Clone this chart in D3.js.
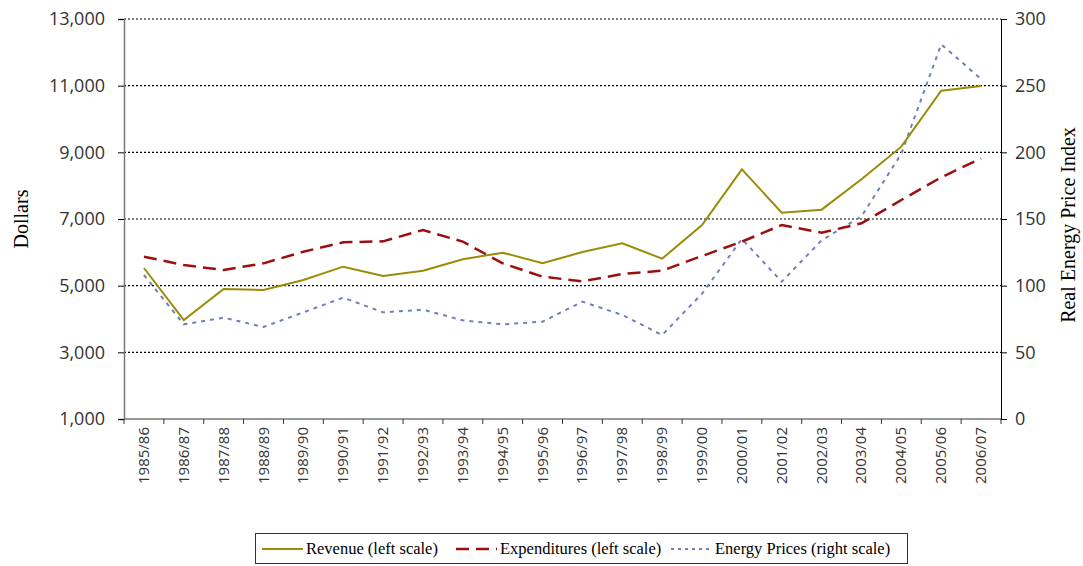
<!DOCTYPE html>
<head>
  <meta charset="utf-8">
  <script src="https://d3js.org/d3.v7.min.js"></script>
  <style>
    body { margin:0; background:#fff; }
    .tick text { font-family: "Open Sans", sans-serif; fill:#333; }
  </style>
</head>
<body>
<script>
// years and the three series
var years = ["1985/86","1986/87","1987/88","1988/89","1989/90","1990/91","1991/92","1992/93",
  "1993/94","1994/95","1995/96","1996/97","1997/98","1998/99","1999/00","2000/01","2001/02",
  "2002/03","2003/04","2004/05","2005/06","2006/07"];
var revenue = [5530,3970,4900,4870,5170,5570,5290,5450,5790,5990,5670,6010,6270,5810,6820,
  8490,7190,7280,8190,9170,10850,10990];
var expenditures = [5870,5620,5470,5670,6020,6300,6330,6670,6320,5670,5270,5130,5350,5450,
  5890,6320,6820,6590,6870,7570,8250,8820];
var energy = [108,71,76,69,80,91,80,82,74,71,73,88,78,63,94,135,103,134,152,199,281,255];
var leftTicks = [1000,3000,5000,7000,9000,11000,13000];
var rightTicks = [0,50,100,150,200,250,300];

var W = 1083, H = 566;
var plotL = 124, plotR = 1001, plotT = 19, plotB = 419;

var svg = d3.select("body").append("svg").attr("width", W).attr("height", H);

var x = d3.scaleBand().domain(years).range([plotL, plotR]);
var yL = d3.scaleLinear().domain([1000, 13000]).range([plotB, plotT]);
var yR = d3.scaleLinear().domain([0, 300]).range([plotB, plotT]);

// dotted gridlines
svg.append("g").selectAll("line").data(leftTicks.slice(1)).enter().append("line")
  .attr("x1", plotL).attr("x2", plotR)
  .attr("y1", function(d){ return yL(d); }).attr("y2", function(d){ return yL(d); })
  .attr("stroke", "#000").attr("stroke-width", 1.2).attr("stroke-dasharray", "2,2");

// left axis
var gl = svg.append("g").attr("transform", "translate(" + plotL + ",0)")
  .call(d3.axisLeft(yL).tickValues(leftTicks).tickFormat(d3.format(",")).tickSize(6).tickPadding(13));
gl.selectAll("text").style("font-size", "18px");
gl.select(".domain").attr("stroke", "#777").attr("stroke-width", 1.5);

// right axis
var gr = svg.append("g").attr("transform", "translate(" + plotR + ",0)")
  .call(d3.axisRight(yR).tickValues(rightTicks).tickSize(6).tickPadding(8));
gr.selectAll("text").style("font-size", "18px");
gr.select(".domain").attr("stroke", "#000").attr("stroke-width", 1);

// bottom axis, ticks between categories
var gb = svg.append("g").attr("transform", "translate(0," + plotB + ")");
gb.append("line").attr("x1", plotL).attr("x2", plotR).attr("stroke", "#777").attr("stroke-width", 1.5);
gb.selectAll(".sep").data(years.concat(["end"])).enter().append("line")
  .attr("x1", function(d, i){ return plotL + i * x.bandwidth(); })
  .attr("x2", function(d, i){ return plotL + i * x.bandwidth(); })
  .attr("y1", 0).attr("y2", 5).attr("stroke", "#333");
gb.selectAll("text").data(years).enter().append("text")
  .attr("transform", function(d){ return "translate(" + (x(d) + x.bandwidth()/2 + 5) + ",8) rotate(-90)"; })
  .attr("text-anchor", "end")
  .style("font-family", "'Open Sans', sans-serif").style("font-size", "15px").attr("fill", "#333")
  .text(function(d){ return d; });

// axis titles
svg.append("text").attr("transform", "translate(28,219) rotate(-90)").attr("text-anchor", "middle")
  .style("font-family", "'Liberation Serif', serif").style("font-size", "20px").text("Dollars");
svg.append("text").attr("transform", "translate(1075,225) rotate(-90)").attr("text-anchor", "middle")
  .style("font-family", "'Liberation Serif', serif").style("font-size", "20px").text("Real Energy Price Index");

// lines
var cx = function(i){ return x(years[i]) + x.bandwidth()/2; };
var lineL = d3.line().x(function(d, i){ return cx(i); }).y(function(d){ return yL(d); });
var lineR = d3.line().x(function(d, i){ return cx(i); }).y(function(d){ return yR(d); });

svg.append("path").datum(energy).attr("d", lineR).attr("fill", "none")
  .attr("stroke", "#7080b8").attr("stroke-width", 2).attr("stroke-dasharray", "4,5");
svg.append("path").datum(expenditures).attr("d", lineL).attr("fill", "none")
  .attr("stroke", "#9c0f0f").attr("stroke-width", 2.5).attr("stroke-dasharray", "13,7");
svg.append("path").datum(revenue).attr("d", lineL).attr("fill", "none")
  .attr("stroke", "#9a8c05").attr("stroke-width", 2);

// legend
var lg = svg.append("g");
lg.append("rect").attr("x", 255.5).attr("y", 533.5).attr("width", 652).attr("height", 30)
  .attr("fill", "none").attr("stroke", "#333");
var items = [
  {name: "Revenue (left scale)", color: "#9a8c05", dash: null, w: 2, x: 262},
  {name: "Expenditures (left scale)", color: "#9c0f0f", dash: "13,7", w: 2.5, x: 456},
  {name: "Energy Prices (right scale)", color: "#7080b8", dash: "3,4", w: 2, x: 671}
];
items.forEach(function(it){
  lg.append("line").attr("x1", it.x).attr("x2", it.x + 41).attr("y1", 549).attr("y2", 549)
    .attr("stroke", it.color).attr("stroke-width", it.w).attr("stroke-dasharray", it.dash);
  lg.append("text").attr("x", it.x + 44).attr("y", 554)
    .style("font-family", "'Liberation Serif', serif").style("font-size", "16.5px").text(it.name);
});
</script>
</body>
